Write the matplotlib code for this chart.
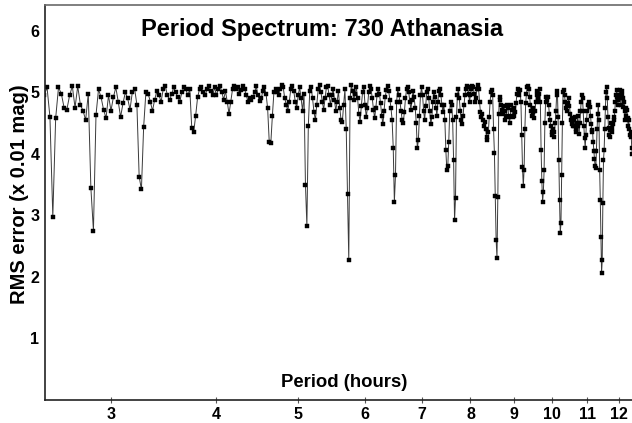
import matplotlib
matplotlib.use("Agg")
import matplotlib.pyplot as plt
from matplotlib.ticker import FixedLocator, NullLocator
import numpy as np

plt.rcParams['font.family'] = ['Liberation Sans', 'DejaVu Sans']

# period grid of the search (hours): start and step
P_START = 2.50
P_STEP = 0.02

# RMS error (x 0.01 mag), one list per hour of period
rms_2h = [4.95, 5.08, 4.60, 2.98, 4.58, 5.08, 4.98, 4.75, 4.72, 4.95,
          5.10, 4.75, 5.10, 4.80, 4.70, 4.55, 4.98, 3.45, 2.75, 4.63,
          5.05, 4.92, 4.72, 4.58, 4.95]
rms_3h = [4.70, 4.92, 5.08, 4.85, 4.60, 4.82, 5.00, 4.90, 4.72, 5.00,
          5.06, 4.80, 3.63, 3.42, 4.44, 5.00, 4.98, 4.85, 4.70, 4.88,
          5.02, 4.95, 4.85, 5.05, 5.10, 4.95, 4.88, 4.97, 5.08, 5.00,
          4.92, 4.85, 5.00, 5.08, 5.05, 4.95, 5.05, 4.42, 4.36, 4.62,
          4.92, 5.05, 5.08, 5.00, 4.95, 5.06, 5.10, 5.02, 4.95, 5.08]
rms_4h = [4.95, 5.05, 5.10, 5.00, 4.88, 5.02, 4.85, 4.65, 4.85, 5.05,
          5.10, 5.05, 5.08, 4.98, 5.04, 5.10, 5.06, 4.95, 4.85, 4.90,
          4.88, 4.92, 5.00, 5.10, 4.95, 4.86, 4.90, 5.02, 5.08, 4.98,
          4.74, 4.20, 4.17, 4.62, 5.01, 5.05, 5.00, 4.95, 5.05, 5.12,
          5.08, 4.90, 4.80, 4.70, 4.85, 5.05, 5.10, 5.02, 4.85, 4.75]
rms_5h = [4.95, 5.08, 4.90, 4.70, 4.98, 3.50, 2.83, 4.45, 5.02, 5.08,
          4.90, 4.68, 4.55, 4.80, 5.05, 5.12, 5.00, 4.85, 4.72, 4.90,
          5.08, 5.10, 4.95, 4.80, 4.95, 5.06, 4.88, 4.70, 4.85, 5.02,
          4.75, 4.55, 4.52, 4.80, 5.05, 4.40, 3.35, 2.28, 4.90, 5.12,
          5.02, 4.88, 4.98, 5.08, 4.90, 4.65, 4.52, 4.78, 5.00, 5.08]
rms_6h = [4.80, 4.60, 4.75, 5.00, 5.10, 5.05, 4.90, 4.72, 4.58, 4.75,
          4.95, 5.05, 4.98, 4.82, 4.62, 4.48, 4.70, 4.92, 5.04, 5.10,
          5.02, 4.88, 4.75, 4.55, 4.10, 3.22, 3.65, 4.85, 5.05, 4.95,
          4.85, 4.70, 4.55, 4.50, 4.68, 4.90, 5.05, 5.08, 5.00, 4.85,
          4.72, 4.88, 5.02, 4.92, 4.75, 4.50, 4.09, 4.22, 4.62, 4.95]
rms_7h = [5.08, 4.95, 4.70, 4.55, 4.78, 5.00, 5.05, 4.90, 4.70, 4.48,
          4.60, 4.85, 5.00, 4.92, 4.75, 4.62, 4.85, 5.02, 5.06, 4.95,
          4.80, 4.68, 4.80, 4.55, 4.06, 3.74, 3.80, 4.20, 4.70, 4.85,
          4.80, 4.55, 3.90, 2.92, 3.28, 4.60, 4.95, 5.05, 4.90, 4.70,
          4.55, 4.48, 4.62, 4.80, 4.95, 5.05, 5.10, 5.08, 4.98, 4.85]
rms_8h = [4.95, 5.05, 5.10, 5.08, 4.98, 4.85, 4.90, 5.05, 5.12, 5.05,
          4.85, 4.68, 4.60, 4.65, 4.55, 4.45, 4.52, 4.40, 4.28, 4.22,
          4.35, 4.60, 4.85, 5.00, 5.04, 4.95, 4.40, 4.01, 3.32, 2.60,
          2.31, 3.30, 4.65, 4.92, 4.88, 4.80, 4.72, 4.65, 4.78, 4.70,
          4.55, 4.62, 4.80, 4.75, 4.60, 4.50, 4.62, 4.80, 4.72, 4.60]
rms_9h = [4.62, 4.75, 4.68, 4.82, 4.98, 5.05, 5.02, 4.95, 5.04, 4.85,
          4.30, 3.78, 3.47, 3.74, 4.40, 4.82, 4.98, 5.08, 5.10, 5.05,
          4.92, 4.80, 4.70, 4.62, 4.75, 4.68, 4.58, 4.70, 4.85, 4.95,
          5.02, 4.90, 4.98, 5.05, 4.85, 4.06, 3.55, 3.22, 3.38, 3.74,
          4.50, 4.85, 4.93, 4.88, 4.92, 4.80, 4.65, 4.55, 4.45, 4.35]
rms_10h = [4.30, 4.40, 4.28, 4.35, 4.50, 4.70, 4.95, 5.02, 4.60, 3.90,
           3.25, 2.71, 2.87, 3.66, 4.50, 5.00, 5.04, 4.95, 4.85, 4.75,
           4.80, 4.70, 4.82, 4.90, 4.78, 4.65, 4.55, 4.48, 4.58, 4.45,
           4.55, 4.45, 4.60, 4.40, 4.35, 4.50, 4.62, 4.45, 4.32, 4.50,
           4.70, 4.85, 4.96, 4.90, 4.70, 4.45, 4.25, 4.10, 4.30, 4.55]
rms_11h = [4.70, 4.80, 4.84, 4.80, 4.76, 4.62, 4.48, 4.35, 4.39, 4.20,
           4.05, 3.92, 3.80, 3.77, 4.05, 4.40, 4.65, 4.80, 4.55, 3.74,
           3.25, 2.65, 2.06, 2.27, 3.20, 3.90, 4.06, 4.40, 4.75, 5.00,
           5.09, 4.90, 4.60, 4.42, 4.30, 4.27, 4.38, 4.50, 4.42, 4.35,
           4.48, 4.60, 4.55, 4.70, 4.85, 4.96, 5.04, 4.92, 4.80, 4.88]
rms_12h = [4.95, 5.04, 4.90, 4.80, 4.95, 5.02, 4.90, 4.76, 4.85, 4.70,
           4.55, 4.62, 4.75, 4.71, 4.58, 4.45, 4.55, 4.40, 4.30, 4.27,
           4.35, 4.10, 4.00]

x_ticks = [3, 4, 5, 6, 7, 8, 9, 10, 11, 12]
y_ticks = [1, 2, 3, 4, 5, 6]

rms = np.concatenate([rms_2h, rms_3h, rms_4h, rms_5h, rms_6h, rms_7h,
                      rms_8h, rms_9h, rms_10h, rms_11h, rms_12h])
period = P_START + P_STEP * np.arange(len(rms))

fig = plt.figure(figsize=(6.32, 4.23), dpi=100)
ax = fig.add_axes([45 / 632, 1 - 399.8 / 423, 1 - 45 / 632, 394.8 / 423])

ax.plot(period, rms, color='#3a3a3a', lw=0.7, marker='s', ms=2.4,
        mfc='black', mec='black', mew=0.3)

ax.set_xscale('log')
ax.set_xlim(2.506, 12.43)
ax.set_ylim(0, 6.42)

ax.xaxis.set_major_locator(FixedLocator(x_ticks))
ax.xaxis.set_minor_locator(NullLocator())
ax.set_xticklabels([str(t) for t in x_ticks])
ax.set_yticks(y_ticks)

ax.tick_params(axis='x', direction='inout', length=5, width=0.8,
               labelsize=11.5, pad=3, color='#555555')
ax.tick_params(axis='y', length=0, labelsize=11.5, pad=4)
for lab in ax.get_xticklabels() + ax.get_yticklabels():
    lab.set_fontweight('bold')

ax.spines['right'].set_visible(False)
ax.spines['top'].set_color('#6a6a6a')
ax.spines['left'].set_color('#222222')
ax.spines['bottom'].set_color('#222222')
for s in ['top', 'left', 'bottom']:
    ax.spines[s].set_linewidth(1.2)

ax.text(0.472, 0.9215, 'Period Spectrum: 730 Athanasia', transform=ax.transAxes,
        ha='center', va='baseline', fontsize=17, fontweight='bold')
ax.text(0.509, 0.033, 'Period (hours)', transform=ax.transAxes,
        ha='center', va='baseline', fontsize=13.3, fontweight='bold')
ax.text(-0.044, 0.52, 'RMS error (x 0.01 mag)', transform=ax.transAxes,
        ha='center', va='center', rotation=90, fontsize=14.5, fontweight='bold')

fig.savefig('out.png', dpi=100)
